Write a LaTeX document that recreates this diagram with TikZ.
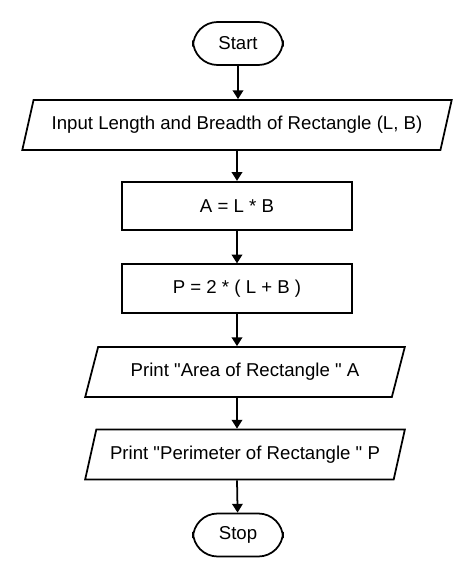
\documentclass[tikz,border=0pt]{standalone}
\usepackage{fontspec}
\setmainfont{Liberation Sans}[Ligatures=TeXOff]
\usetikzlibrary{shapes.geometric,arrows.meta}
\tikzset{
  every node/.style={font=\fontsize{10.6}{12}\selectfont},
  term/.style={rectangle, draw, rounded corners=14pt, minimum width=1.8cm, minimum height=0.86cm, line width=1pt},
  proc/.style={rectangle, draw, minimum width=4.6cm, minimum height=0.97cm, line width=1pt},
  io/.style={trapezium, trapezium left angle=70, trapezium right angle=110, trapezium stretches=true, draw, line width=1pt, minimum height=1cm},
  flow/.style={-{Triangle[length=5pt,width=6pt]}, line width=1pt}
}
\begin{document}
\begin{tikzpicture}[x=0.02cm,y=-0.02cm]
  \useasboundingbox (0,0) rectangle (474,581);
  \node[term] (start) at (238,43.5) {Start};
  \node[io, minimum width=8.6cm] (inp) at (237,125) {Input Length and Breadth of Rectangle (L, B)};
  \node[proc] (area) at (237,206) {A = L * B};
  \node[proc] (perim) at (237,288.5) {P = 2 * ( L + B )};
  \node[io, minimum width=6.4cm] (parea) at (245,372) {Print "Area of Rectangle " A};
  \node[io, minimum width=6.4cm] (pperim) at (245,454.5) {Print "Perimeter of Rectangle " P};
  \node[term] (stop) at (238,535) {Stop};

  \draw[flow] (start) -- (start |- inp.north);
  \draw[flow] (area |- inp.south) -- (area);
  \draw[flow] (area) -- (perim);
  \draw[flow] (perim) -- (perim |- parea.north);
  \draw[flow] (perim |- parea.south) -- (perim |- pperim.north);
  \draw[flow] (perim |- pperim.south) -- (stop);
\end{tikzpicture}
\end{document}
